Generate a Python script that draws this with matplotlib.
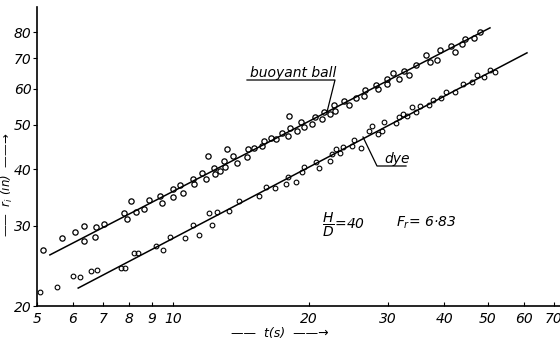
import matplotlib
matplotlib.use("Agg")
import matplotlib.pyplot as plt
from matplotlib.lines import Line2D
from matplotlib.ticker import FixedLocator, FixedFormatter, NullLocator

# buoyant ball: time t (s) and radius r_i (in)
ball_t = [5.15, 5.67, 6.07, 6.36, 6.37, 6.76, 6.74, 7.04, 7.80, 7.92, 8.08, 8.29,
          8.63, 8.87, 9.39, 9.46, 10.0, 10.0, 10.38, 10.51, 11.07, 11.15, 11.63, 11.85,
          11.95, 12.36, 12.41, 12.73, 13.01, 13.06, 13.17, 13.62, 13.86, 14.58, 14.68, 15.14,
          15.74, 15.96, 16.51, 16.94, 17.44, 18.04, 18.13, 18.20, 18.89, 19.20, 19.56, 20.31,
          20.67, 21.39, 21.68, 22.32, 22.82, 22.89, 23.97, 24.63, 25.53, 26.57, 26.69, 28.27,
          28.56, 29.81, 29.91, 30.83, 31.79, 32.51, 33.35, 34.56, 36.38, 37.18, 38.59, 39.19,
          41.33, 42.29, 43.83, 44.53, 46.44, 47.99]
ball_r = [26.55, 28.17, 29.04, 30.03, 27.83, 29.88, 28.31, 30.21, 32.07, 31.01, 34.07, 32.23,
          32.63, 34.20, 34.95, 33.73, 36.16, 34.78, 36.95, 35.49, 38.09, 37.05, 39.15, 37.97,
          42.73, 40.27, 39.01, 39.61, 41.66, 40.48, 44.27, 42.80, 41.30, 42.58, 44.27, 44.57,
          45.02, 46.15, 46.80, 46.49, 47.92, 47.35, 52.32, 49.15, 48.48, 50.63, 49.55, 50.17,
          52.13, 51.64, 53.47, 52.96, 55.17, 53.58, 56.44, 55.31, 57.43, 57.78, 59.52, 61.31,
          59.92, 63.17, 61.53, 65.03, 63.08, 65.76, 64.37, 67.72, 71.23, 68.76, 69.60, 73.06,
          74.55, 72.43, 75.39, 77.24, 77.63, 79.90]

# dye
dye_t = [5.08, 5.55, 6.00, 6.24, 6.60, 6.78, 7.69, 7.82, 8.20, 8.39, 9.18, 9.53,
         9.86, 10.65, 11.06, 11.45, 12.04, 12.20, 12.52, 13.35, 14.04, 15.55, 16.10, 16.85,
         17.83, 17.97, 18.76, 19.35, 19.59, 20.78, 21.10, 22.36, 22.52, 23.01, 23.43, 23.79,
         24.94, 25.26, 26.12, 27.19, 27.72, 28.45, 29.06, 29.40, 31.22, 31.79, 32.39, 33.06,
         33.86, 34.56, 35.33, 36.95, 37.71, 39.37, 40.35, 42.20, 44.01, 46.09, 47.20, 48.98,
         50.51, 51.69]
dye_r = [21.43, 22.02, 23.28, 23.13, 23.91, 24.00, 24.18, 24.30, 26.09, 26.19, 27.14, 26.55,
         28.31, 28.17, 30.13, 28.65, 31.97, 30.13, 32.14, 32.32, 34.06, 34.85, 36.47, 36.29,
         37.05, 38.42, 37.52, 39.45, 40.42, 41.51, 40.27, 41.60, 43.21, 44.27, 43.28, 44.80,
         44.96, 46.33, 44.43, 48.60, 49.73, 47.87, 48.55, 50.63, 50.58, 52.05, 52.72, 52.32,
         54.84, 53.47, 55.03, 55.40, 56.73, 57.22, 59.07, 59.07, 61.37, 61.99, 64.21, 63.62,
         66.03, 65.36]

# fitted straight lines (end points)
ball_fit_t = [5.34, 50.5]
ball_fit_r = [25.9, 81.7]
dye_fit_t = [6.17, 61.0]
dye_fit_r = [21.9, 72.0]

x_ticks = [5, 6, 7, 8, 9, 10, 20, 30, 40, 50, 60, 70]
y_ticks = [20, 30, 40, 50, 60, 70, 80]

W, H = 560, 340


def fx(px):
    return px / W


def fy(py):
    return 1 - py / H


fig = plt.figure(figsize=(5.6, 3.4), dpi=100)
ax = fig.add_axes([fx(37), fy(306), 523 / W, 299 / H])

ax.plot(ball_fit_t, ball_fit_r, color="black", lw=1.1)
ax.plot(dye_fit_t, dye_fit_r, color="black", lw=1.1)
ax.plot(ball_t, ball_r, "o", mfc="none", mec="black", ms=3.8, mew=0.9)
ax.plot(dye_t, dye_r, "o", mfc="none", mec="black", ms=3.4, mew=0.8)

ax.set_xscale("log")
ax.set_yscale("log")
ax.set_xlim(5, 72.2)
ax.set_ylim(20, 90.8)

ax.xaxis.set_major_locator(FixedLocator(x_ticks))
ax.xaxis.set_major_formatter(FixedFormatter([str(v) for v in x_ticks]))
ax.xaxis.set_minor_locator(NullLocator())
ax.yaxis.set_major_locator(FixedLocator(y_ticks))
ax.yaxis.set_major_formatter(FixedFormatter([str(v) for v in y_ticks]))
ax.yaxis.set_minor_locator(NullLocator())

ax.tick_params(axis="x", direction="in", length=3, pad=4, labelsize=10)
ax.tick_params(axis="y", direction="out", length=3, pad=1, labelsize=10)
for lab in ax.get_xticklabels() + ax.get_yticklabels():
    lab.set_fontstyle("italic")

ax.spines["top"].set_visible(False)
ax.spines["right"].set_visible(False)
ax.spines["left"].set_linewidth(1.2)
ax.spines["bottom"].set_linewidth(1.2)

# annotations
fig.text(fx(250), fy(77), "buoyant ball", fontsize=10, style="italic", va="baseline")
fig.add_artist(Line2D([fx(247), fx(335), fx(327)], [fy(80), fy(80), fy(112)],
                      color="black", lw=0.9))
fig.text(fx(384), fy(163), "dye", fontsize=10, style="italic", va="baseline")
fig.add_artist(Line2D([fx(363), fx(377), fx(406)], [fy(137), fy(166), fy(166)],
                      color="black", lw=0.9))

fig.text(fx(322), fy(225), r"$\dfrac{H}{D}$=40", fontsize=10, style="italic", va="center")
fig.text(fx(396), fy(223), r"$F_r$= 6·83", fontsize=10, style="italic", va="center")

fig.text(fx(280), fy(333), "——  t(s)  ——→", fontsize=9, style="italic",
         ha="center", va="center")
fig.text(fx(7), fy(185), "——  $r_i$ (in)  ——→", fontsize=8.5, style="italic",
         rotation=90, ha="center", va="center")

fig.savefig("out.png", dpi=100)
